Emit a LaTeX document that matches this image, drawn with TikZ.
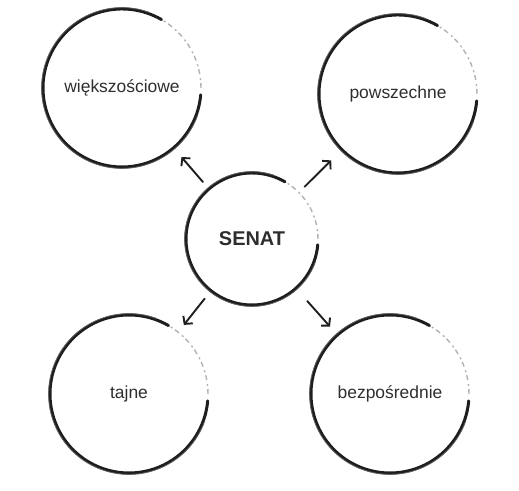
\documentclass[tikz,border=0pt]{standalone}
\usepackage{fontspec}
\setmainfont{Liberation Sans}
\usetikzlibrary{arrows.meta}
\definecolor{ink}{HTML}{1E1E1E}
\definecolor{txt}{HTML}{2E2E2E}
\tikzset{
  bubble/.style={circle, inner sep=0pt, text=txt, font=\fontsize{17.5}{21}\selectfont},
  ringsolid/.style={draw=ink, line width=3bp, line cap=round},
  ringedge/.style={draw=ink!70, line width=0.8bp},
  ringfaint/.style={draw=black!30, line width=1.4bp, dash pattern=on 5bp off 3bp on 2bp off 4bp},
  arr/.style={draw=ink, line width=1.9bp, line cap=round, -{Straight Barb[length=5.5bp,width=12bp,line width=1.9bp]}}
}
\newcommand{\sketchring}[2]{%
  \draw[ringsolid] ([shift={(60:#2)}]#1.center) arc[start angle=60, end angle=355, radius=#2];
  \draw[ringedge] ([shift={(70:#2+1.4bp)}]#1.center) arc[start angle=70, end angle=340, radius=#2+1.4bp];
  \draw[ringfaint] ([shift={(0:#2)}]#1.center) arc[start angle=0, end angle=60, radius=#2];
}
\begin{document}
\begin{tikzpicture}[x=1bp,y=1bp]
\useasboundingbox (0,0) rectangle (519,491);
\node[bubble, minimum size=158bp] (tl) at (122,403) {większościowe};
\node[bubble, minimum size=158bp] (tr) at (398,397) {powszechne};
\node[bubble, minimum size=132bp, font=\fontsize{20}{24}\selectfont\bfseries] (c) at (252,252) {SENAT};
\node[bubble, minimum size=158bp] (bl) at (129,97) {tajne};
\node[bubble, minimum size=158bp] (br) at (390,97) {bezpośrednie};
\sketchring{tl}{79bp}
\sketchring{tr}{79bp}
\sketchring{c}{66bp}
\sketchring{bl}{79bp}
\sketchring{br}{79bp}
\draw[arr, shorten <=9bp, shorten >=12bp] (c) -- (tl);
\draw[arr, shorten <=8bp, shorten >=15bp] (c) -- (tr);
\draw[arr, shorten <=10bp, shorten >=9bp] (c) -- (bl);
\draw[arr, shorten <=17bp, shorten >=11bp] (c) -- (br);
\end{tikzpicture}
\end{document}
